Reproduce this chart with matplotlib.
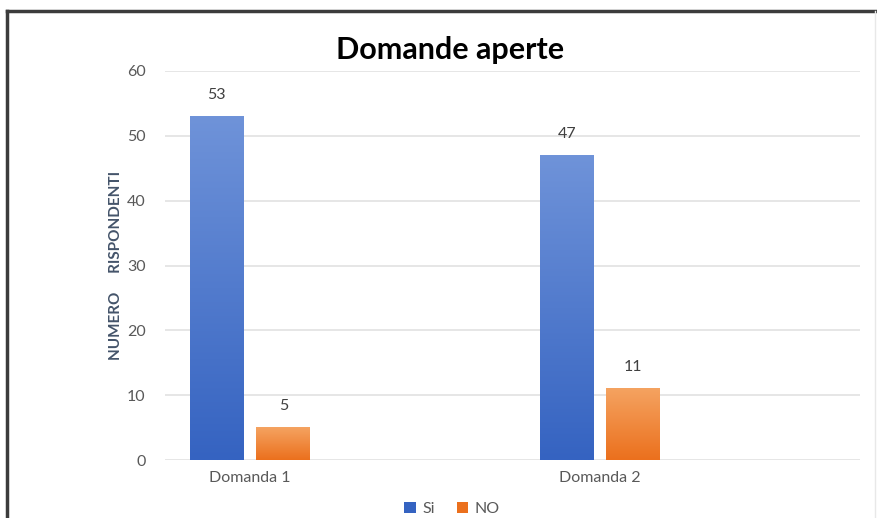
import numpy as np
import matplotlib.pyplot as plt
from matplotlib.lines import Line2D
from matplotlib.colors import LinearSegmentedColormap
from matplotlib.patches import Patch

plt.rcParams['font.family'] = ['Lato', 'DejaVu Sans']

# ── Data ───────────────────────────────────
categories = ['Domanda 1', 'Domanda 2']
si_values  = [53, 47]
no_values  = [5, 11]
series     = ['Si', 'NO']
yticks     = [0, 10, 20, 30, 40, 50, 60]

# ── Style ──────────────────────────────────
BLUE_TOP, BLUE_BOT     = '#6f93d9', '#3563c1'
ORANGE_TOP, ORANGE_BOT = '#f5a361', '#eb701d'
TEXT_GREY = '#595959'
GRID      = '#e2e2e2'

fig = plt.figure(figsize=(8.78, 5.18), dpi=100)
ax  = fig.add_axes([165 / 878, 1 - 460 / 518, 695 / 878, 389 / 518])

x     = np.arange(len(categories))
width = 0.154
off   = 0.095


def gradient_bars(xs, heights, top, bottom):
    cmap = LinearSegmentedColormap.from_list('g', [bottom, top])
    grad = np.linspace(0, 1, 256).reshape(-1, 1)
    bars = ax.bar(xs, heights, width, color='none', zorder=3)
    for bar in bars:
        x0 = bar.get_x()
        h  = bar.get_height()
        ax.imshow(grad, extent=[x0, x0 + bar.get_width(), 0, h],
                  origin='lower', aspect='auto', cmap=cmap, zorder=3)
    return bars


bars_si = gradient_bars(x - off, si_values, BLUE_TOP, BLUE_BOT)
bars_no = gradient_bars(x + off, no_values, ORANGE_TOP, ORANGE_BOT)

for bars in (bars_si, bars_no):
    for bar in bars:
        ax.text(bar.get_x() + bar.get_width() / 2, bar.get_height() + 2.2,
                f'{int(bar.get_height())}', ha='center', va='bottom',
                fontsize=11.5, color='#404040')

ax.set_xlim(-0.243, 1.743)
ax.set_ylim(0, 60)
ax.set_yticks(yticks)
ax.set_xticks(x)
ax.set_xticklabels(categories)
ax.tick_params(axis='both', length=0, labelsize=11.5, colors=TEXT_GREY)
ax.tick_params(axis='y', pad=14)
ax.tick_params(axis='x', pad=8)
ax.grid(axis='y', color=GRID, linewidth=1.2, zorder=0)
for s in ax.spines.values():
    s.set_visible(False)

ax.set_ylabel('NUMERO     RISPONDENTI', fontsize=11, fontweight='bold',
              color='#44546a', labelpad=3)

fig.text(450 / 878, 1 - 50 / 518, 'Domande aperte', ha='center', va='center',
         fontsize=22, fontweight='bold', color='black')

handles = [Patch(facecolor=BLUE_BOT, label=series[0]),
           Patch(facecolor=ORANGE_BOT, label=series[1])]
fig.legend(handles=handles, loc='center', bbox_to_anchor=(452 / 878, 1 - 509 / 518),
           ncol=2, frameon=False, fontsize=11.5, handlelength=0.7, handleheight=0.7,
           handletextpad=0.4, columnspacing=1.4, labelcolor=TEXT_GREY)

# ── Frame ──────────────────────────────────
fig.add_artist(Line2D([7 / 878, 7 / 878], [0, 1 - 11 / 518],
                      transform=fig.transFigure, color='#3c3c3c', linewidth=2.5))
fig.add_artist(Line2D([7 / 878, 1], [1 - 11 / 518, 1 - 11 / 518],
                      transform=fig.transFigure, color='#3c3c3c', linewidth=2.5))
fig.add_artist(Line2D([875 / 878, 875 / 878], [0, 1 - 11 / 518],
                      transform=fig.transFigure, color='#e8e8e8', linewidth=1))

fig.savefig('out.png', dpi=100)
